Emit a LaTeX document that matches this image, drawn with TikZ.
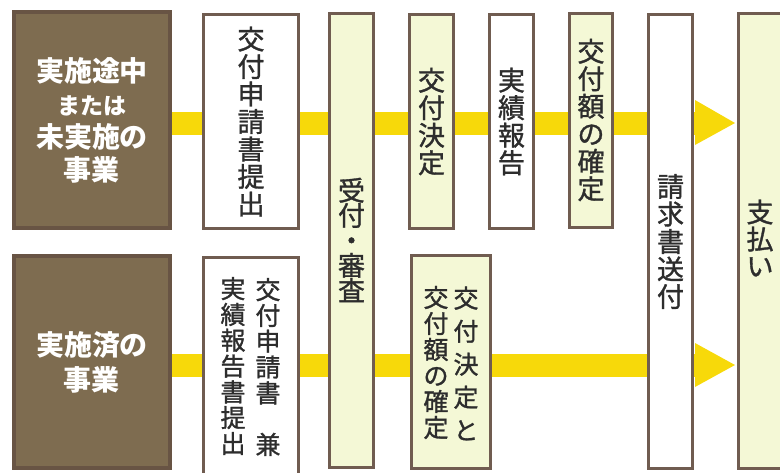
\documentclass[tikz,border=0pt]{standalone}
\usepackage{fontspec}
\setmainfont{Noto Sans CJK JP}
\newfontfamily\medfont[FakeBold=1.2]{Noto Sans CJK JP}
\definecolor{brownc}{RGB}{126,108,80}
\definecolor{bbordc}{RGB}{104,84,68}
\definecolor{bordc}{RGB}{112,92,80}
\definecolor{greenc}{RGB}{244,248,214}
\definecolor{yellowc}{RGB}{247,217,10}
\definecolor{txtc}{RGB}{45,45,45}
\pgfdeclarelayer{bg}
\pgfsetlayers{bg,main}
\begin{document}
\begin{tikzpicture}[x=1pt,y=-1pt,
  box/.style={draw=bordc,line width=3pt,inner sep=0pt,text=txtc,align=center,font=\medfont\fontsize{27}{27.5}\selectfont},
  wbox/.style={box,fill=white},
  gbox/.style={box,fill=greenc},
  bbox/.style={box,fill=brownc,draw=bbordc,line width=4pt,text=white,font=\bfseries\fontsize{28}{33}\selectfont},
  vtxt/.style={inner sep=0pt,text=txtc,align=center},
  band/.style={draw=yellowc,line width=23pt},
  head/.style={fill=yellowc},
]
\useasboundingbox (0,0) rectangle (780,472);
\clip (0,0) rectangle (780,472);

% left boxes
\node[bbox,minimum width=156pt,minimum height=216pt] (L1) at (92,120)
  {実施途中\\{\fontsize{23}{30}\selectfont または}\\未実施の\\事業};
\node[bbox,minimum width=156pt,minimum height=212pt,font=\bfseries\fontsize{28}{35}\selectfont] (L2) at (92,362)
  {実施済の\\事業};

% top row
\node[wbox,minimum width=95pt,minimum height=214pt] (A1) at (251,121.5)
  {交\\付\\申\\請\\書\\提\\出};
\node[gbox,minimum width=44pt,minimum height=454pt,font=\medfont\fontsize{27}{25}\selectfont] (R) at (351.5,240)
  {受\\付\\・\\審\\査};
\node[gbox,minimum width=44pt,minimum height=214pt] (D1) at (431.5,121.5)
  {交\\付\\決\\定};
\node[wbox,minimum width=44pt,minimum height=214pt] (J) at (511.5,121.5)
  {実\\績\\報\\告};
\node[gbox,minimum width=43pt,minimum height=214pt] (K) at (591,120)
  {交\\付\\額\\の\\確\\定};
\node[wbox,minimum width=44pt,minimum height=454pt] (S) at (670.5,241.5)
  {請\\求\\書\\送\\付};
\node[gbox,minimum width=60pt,minimum height=455pt] (P) at (768.5,241) {};
\node[vtxt,font=\medfont\fontsize{27}{27}\selectfont] (Pt) at (760,238) {支\\払\\い};

% bottom row
\node[wbox,minimum width=95pt,minimum height=218pt] (A2) at (251,366) {};
\node[vtxt,font=\medfont\fontsize{25}{25.8}\selectfont] (A2a) at (268,367)
  {交\\付\\申\\請\\書\\\phantom{兼}\\兼};
\node[vtxt,font=\medfont\fontsize{25}{25.8}\selectfont] (A2b) at (233,366)
  {実\\績\\報\\告\\書\\提\\出};
\node[gbox,minimum width=79pt,minimum height=213pt] (D2) at (451,362) {};
\node[vtxt,font=\medfont\fontsize{25}{33}\selectfont] (D2a) at (466,363.5)
  {交\\付\\決\\定\\と};
\node[vtxt,font=\medfont\fontsize{25}{26}\selectfont] (D2b) at (436,362.5)
  {交\\付\\額\\の\\確\\定};

% flow bands
\coordinate (h1) at (695,123);
\coordinate (h2) at (695,365);
\begin{pgfonlayer}{bg}
  \draw[band] (L1.east |- h1) -- (h1);
  \fill[head] (h1) ++(0,-23) -- ++(40,23) -- ++(-40,22) -- cycle;
  \draw[band] (L2.east |- h2) -- (h2);
  \fill[head] (h2) ++(0,-22) -- ++(40,22) -- ++(-40,22) -- cycle;
\end{pgfonlayer}
\end{tikzpicture}
\end{document}
